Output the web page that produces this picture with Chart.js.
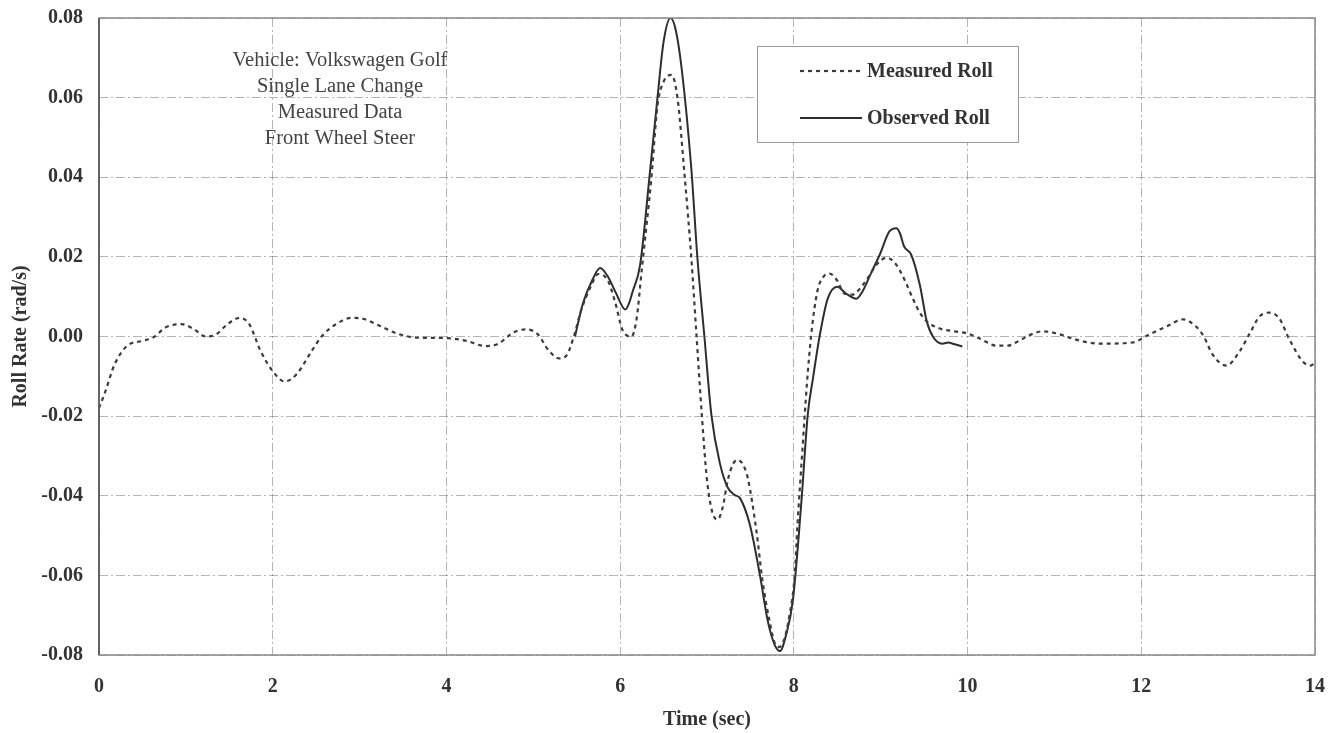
<!DOCTYPE html>
<html>
<head>
<meta charset="utf-8">
<script src="https://cdn.jsdelivr.net/npm/chart.js@4.4.0/dist/chart.umd.min.js"></script>
<style>
  html, body { margin: 0; padding: 0; background: #ffffff; }
  #wrap { width: 1340px; height: 733px; position: relative; }
</style>
</head>
<body>
<div id="wrap"><canvas id="c" width="1340" height="733"></canvas></div>
<script>
// Roll rate (rad/s) versus time (sec)
const measuredTime = [
  0.00, 0.07, 0.18, 0.32, 0.50, 0.62, 0.77, 0.95, 1.09, 1.23, 1.34, 1.48, 1.62, 1.73, 1.86,
  2.00, 2.14, 2.27, 2.45, 2.57, 2.73, 2.91, 3.05, 3.23, 3.45, 3.68, 4.00, 4.23, 4.45, 4.59,
  4.77, 4.91, 5.05, 5.18, 5.30, 5.39, 5.47, 5.55, 5.66, 5.75, 5.86, 5.94, 6.03, 6.13, 6.19,
  6.25, 6.36, 6.43, 6.50, 6.59, 6.66, 6.74, 6.82, 6.88, 6.94, 7.00, 7.06, 7.12, 7.18, 7.24,
  7.30, 7.35, 7.41, 7.47, 7.57, 7.64, 7.72, 7.78, 7.83, 7.89, 7.95, 8.01, 8.04, 8.10, 8.15,
  8.20, 8.27, 8.34, 8.41, 8.50, 8.58, 8.67, 8.76, 8.86, 8.95, 9.07, 9.18, 9.28, 9.37, 9.45,
  9.53, 9.68, 9.85, 9.99, 10.14, 10.33, 10.46, 10.60, 10.71, 10.86, 11.02, 11.25, 11.52, 11.90,
  12.09, 12.29, 12.48, 12.63, 12.72, 12.82, 12.98, 13.13, 13.25, 13.36, 13.48, 13.59, 13.70,
  13.86, 13.95, 14.00
];
const measuredRoll = [
  -0.0180, -0.0140, -0.0070, -0.0024, -0.0011, -0.0003, 0.0023, 0.0031, 0.0019, 0.0000, 0.0004, 0.0031, 0.0047, 0.0031, -0.0036,
  -0.0087, -0.0113, -0.0096, -0.0036, 0.0002, 0.0031, 0.0047, 0.0044, 0.0027, 0.0006, -0.0003, -0.0004, -0.0011, -0.0024, -0.0019,
  0.0010, 0.0018, 0.0006, -0.0036, -0.0055, -0.0045, 0.0002, 0.0065, 0.0125, 0.0157, 0.0140, 0.0088, 0.0015, 0.0000, 0.0045,
  0.0170, 0.0400, 0.0580, 0.0640, 0.0657, 0.0600, 0.0410, 0.0196, 0.0000, -0.0196, -0.0360, -0.0440, -0.0460, -0.0430, -0.0360,
  -0.0320, -0.0310, -0.0320, -0.0356, -0.0490, -0.0615, -0.0715, -0.0770, -0.0780, -0.0760, -0.0700, -0.0600, -0.0480, -0.0280, -0.0120,
  0.0005, 0.0113, 0.0150, 0.0158, 0.0140, 0.0108, 0.0105, 0.0120, 0.0150, 0.0180, 0.0198, 0.0180, 0.0140, 0.0095, 0.0060,
  0.0038, 0.0020, 0.0013, 0.0008, -0.0005, -0.0023, -0.0023, -0.0010, 0.0003, 0.0013, 0.0008, -0.0008, -0.0018, -0.0015,
  0.0005, 0.0025, 0.0043, 0.0025, 0.0000, -0.0045, -0.0073, -0.0038, 0.0008, 0.0050, 0.0060, 0.0045, -0.0005,
  -0.0063, -0.0073, -0.0065
];

const observedTime = [
  5.48, 5.57, 5.68, 5.77, 5.86, 5.95, 6.06, 6.11, 6.14, 6.23, 6.34, 6.43, 6.50, 6.58, 6.64,
  6.71, 6.82, 6.89, 6.97, 7.05, 7.15, 7.24, 7.32, 7.38, 7.49, 7.61, 7.70, 7.78, 7.84, 7.91,
  7.99, 8.09, 8.16, 8.22, 8.30, 8.39, 8.50, 8.60, 8.72, 8.79, 8.89, 8.99, 9.10, 9.18, 9.22,
  9.27, 9.35, 9.45, 9.53, 9.60, 9.71, 9.78, 9.83, 9.94
];
const observedRoll = [
  0.0000, 0.0082, 0.0142, 0.0172, 0.0150, 0.0110, 0.0068, 0.0088, 0.0110, 0.0180, 0.0406, 0.0600, 0.0740, 0.0800, 0.0770,
  0.0670, 0.0420, 0.0196, 0.0000, -0.0196, -0.0320, -0.0380, -0.0398, -0.0406, -0.0470, -0.0600, -0.0715, -0.0775, -0.0790, -0.0750,
  -0.0660, -0.0406, -0.0196, -0.0105, 0.0005, 0.0095, 0.0125, 0.0108, 0.0095, 0.0113, 0.0160, 0.0206, 0.0264, 0.0272, 0.0260,
  0.0226, 0.0206, 0.0130, 0.0038, 0.0000, -0.0018, -0.0015, -0.0018, -0.0025
];

const seriesNames = ['Measured Roll', 'Observed Roll'];
const noteLines = ['Vehicle: Volkswagen Golf', 'Single Lane Change', 'Measured Data', 'Front Wheel Steer'];
const xTitle = 'Time (sec)';
const yTitle = 'Roll Rate (rad/s)';

const toPoints = (xs, ys) => xs.map((x, i) => ({ x: x, y: ys[i] }));

const SERIF = '"Liberation Serif", "Times New Roman", serif';
const INK = '#333333';

// Frame, in-plot legend and annotation text
const decorations = {
  id: 'decorations',
  afterDatasetsDraw(chart) {
    const { ctx, chartArea: a } = chart;
    ctx.save();
    // plot frame
    ctx.strokeStyle = '#8a8a8a';
    ctx.lineWidth = 1.5;
    ctx.strokeRect(a.left, a.top, a.right - a.left, a.bottom - a.top);
    ctx.strokeStyle = '#555';
    ctx.lineWidth = 1.6;
    ctx.beginPath();
    ctx.moveTo(a.left, a.top);
    ctx.lineTo(a.left, a.bottom);
    ctx.stroke();

    // annotation
    ctx.fillStyle = '#444';
    ctx.font = '20.5px ' + SERIF;
    ctx.textAlign = 'center';
    ctx.textBaseline = 'middle';
    noteLines.forEach((t, i) => ctx.fillText(t, 340, 61 + i * 26));

    // legend
    const bx = 757, by = 46, bw = 261, bh = 96;
    ctx.fillStyle = '#ffffff';
    ctx.fillRect(bx, by, bw, bh);
    ctx.strokeStyle = '#999';
    ctx.lineWidth = 1;
    ctx.strokeRect(bx + 0.5, by + 0.5, bw, bh);
    chart.data.datasets.forEach((ds, i) => {
      const y = 71 + i * 47;
      ctx.strokeStyle = ds.borderColor;
      ctx.lineWidth = ds.borderWidth;
      ctx.setLineDash(ds.borderDash || []);
      ctx.beginPath();
      ctx.moveTo(800, y);
      ctx.lineTo(862, y);
      ctx.stroke();
      ctx.setLineDash([]);
      ctx.fillStyle = INK;
      ctx.font = 'bold 20px ' + SERIF;
      ctx.textAlign = 'left';
      ctx.textBaseline = 'middle';
      ctx.fillText(ds.label, 867, y + 1);
    });
    ctx.restore();
  }
};

const gridStyle = {
  color: 'rgba(90,90,90,0.45)',
  lineWidth: 1,
  drawTicks: false
};
const gridBorder = { display: false, dash: [9, 3, 2, 3] };

new Chart(document.getElementById('c'), {
  type: 'line',
  data: {
    datasets: [
      {
        label: seriesNames[0],
        data: toPoints(measuredTime, measuredRoll),
        borderColor: '#3c3c3c',
        borderWidth: 2.2,
        borderDash: [4, 4],
        pointRadius: 0,
        fill: false,
        cubicInterpolationMode: 'monotone'
      },
      {
        label: seriesNames[1],
        data: toPoints(observedTime, observedRoll),
        borderColor: '#2e2e2e',
        borderWidth: 2,
        pointRadius: 0,
        fill: false,
        cubicInterpolationMode: 'monotone'
      }
    ]
  },
  options: {
    responsive: false,
    animation: false,
    devicePixelRatio: 1,
    layout: { padding: { top: 18, right: 25, left: 0, bottom: 0 } },
    plugins: {
      legend: { display: false },
      tooltip: { enabled: false }
    },
    scales: {
      x: {
        type: 'linear',
        min: 0,
        max: 14,
        border: gridBorder,
        grid: gridStyle,
        ticks: {
          stepSize: 2,
          padding: 20,
          color: INK,
          font: { family: SERIF, size: 20, weight: 'bold' },
          callback: v => String(v)
        },
        title: {
          display: true,
          text: xTitle,
          color: INK,
          font: { family: SERIF, size: 20, weight: 'bold' },
          padding: { top: 8, bottom: 1 }
        },
        afterFit: s => { s.height = 78; s.paddingLeft = 0; s.paddingRight = 0; }
      },
      y: {
        min: -0.08,
        max: 0.08,
        border: gridBorder,
        grid: gridStyle,
        ticks: {
          stepSize: 0.02,
          padding: 16,
          color: INK,
          font: { family: SERIF, size: 20, weight: 'bold' },
          callback: v => v.toFixed(2)
        },
        title: {
          display: true,
          text: yTitle,
          color: INK,
          font: { family: SERIF, size: 20, weight: 'bold' },
          padding: { top: 9, bottom: 4 }
        },
        afterFit: s => { s.width = 99; s.paddingTop = 0; s.paddingBottom = 0; }
      }
    }
  },
  plugins: [decorations]
});
</script>
</body>
</html>
